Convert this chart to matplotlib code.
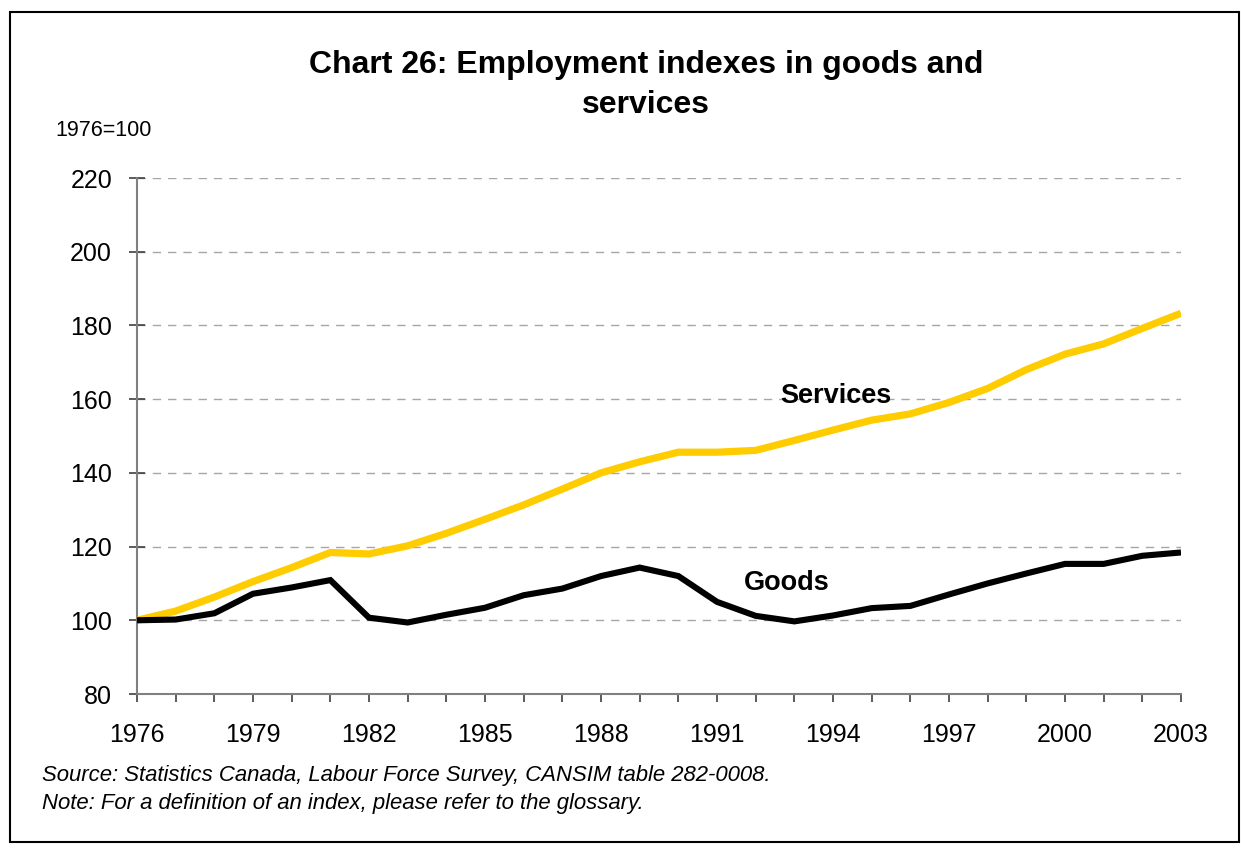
import matplotlib
matplotlib.use("Agg")
import matplotlib.pyplot as plt
from matplotlib.patches import Rectangle

# Employment indexes, 1976 = 100
years = list(range(1976, 2004))
goods = [100.0, 100.2, 101.9, 107.2, 108.9, 110.9, 100.7, 99.4, 101.5, 103.4,
         106.8, 108.6, 112.0, 114.3, 112.0, 105.0, 101.2, 99.7, 101.3, 103.3,
         103.9, 107.0, 110.0, 112.7, 115.3, 115.3, 117.5, 118.4]
services = [100.0, 102.5, 106.3, 110.5, 114.3, 118.4, 118.0, 120.2, 123.6, 127.4,
            131.3, 135.6, 140.0, 143.0, 145.6, 145.6, 146.1, 148.8, 151.6, 154.3,
            156.0, 159.1, 162.9, 168.0, 172.2, 175.0, 179.2, 183.3]

x_ticks = list(range(1976, 2004, 3))
y_ticks = list(range(80, 221, 20))

plt.rcParams["font.family"] = ["Liberation Sans", "DejaVu Sans"]

W, H = 1241, 851
fig = plt.figure(figsize=(W / 100, H / 100), dpi=100)
ax = fig.add_axes([137 / W, 1 - 694 / H, (1181 - 137) / W, (694 - 178) / H])

ax.plot(years, services, color="#FFCC00", lw=5.2, solid_capstyle="butt",
        solid_joinstyle="miter", zorder=3)
ax.plot(years, goods, color="#000000", lw=4.4, solid_capstyle="butt",
        solid_joinstyle="miter", zorder=4)

ax.set_xlim(1976, 2003)
ax.set_ylim(80, 220)
ax.set_xticks(range(1976, 2004))
ax.set_xticklabels([str(y) if y in x_ticks else "" for y in range(1976, 2004)])
ax.set_yticks(y_ticks)
ax.set_yticklabels([str(v) for v in y_ticks])

ax.yaxis.grid(True, linestyle=(0, (6, 5)), color="#a6a6a6", lw=1.0)
ax.set_axisbelow(True)
for side in ("top", "right"):
    ax.spines[side].set_visible(False)
for side in ("left", "bottom"):
    ax.spines[side].set_color("#808080")
    ax.spines[side].set_linewidth(1.5)

ax.tick_params(axis="x", direction="out", length=6, width=1.2, color="#404040",
               labelsize=18, pad=15)
ax.tick_params(axis="y", direction="inout", length=12, width=1.2, color="#404040",
               labelsize=18, pad=12)

ax.text(1994.08, 160.9, "Services", fontsize=19.5, fontweight="bold",
        ha="center", va="center")
ax.text(1992.81, 110.1, "Goods", fontsize=19.5, fontweight="bold",
        ha="center", va="center")

fig.text(646 / W, 1 - 85 / H, "Chart 26: Employment indexes in goods and\nservices",
         ha="center", va="center", fontsize=23, fontweight="bold",
         linespacing=1.45)
fig.text(55 / W, 1 - 131 / H, "1976=100", fontsize=15.5, ha="left", va="center")
fig.text(42 / W, 1 - 775 / H,
         "Source: Statistics Canada, Labour Force Survey, CANSIM table 282-0008.",
         fontsize=15.9, style="italic", ha="left", va="center")
fig.text(42 / W, 1 - 804 / H,
         "Note: For a definition of an index, please refer to the glossary.",
         fontsize=15.9, style="italic", ha="left", va="center")

fig.patches.append(Rectangle((10 / W, 1 - 842 / H), (1239 - 10) / W, (842 - 12) / H,
                             transform=fig.transFigure, fill=False,
                             edgecolor="black", lw=1.5))

fig.savefig("out.png", dpi=100, facecolor="white")
